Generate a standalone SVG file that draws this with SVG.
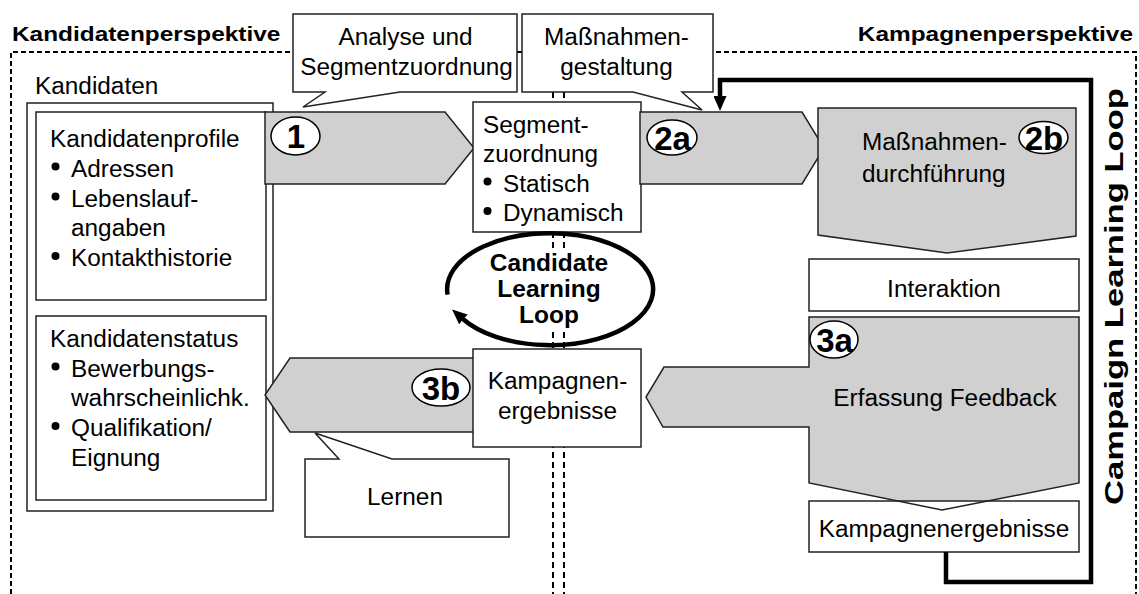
<svg xmlns="http://www.w3.org/2000/svg" width="1139" height="594" viewBox="0 0 1139 594">
  <style>
    .frame { fill: none; stroke: #000; stroke-width: 2; stroke-dasharray: 5 3; }
    .divider { fill: none; stroke: #000; stroke-width: 2; stroke-dasharray: 6 4; }
    .box { fill: #fff; stroke: #222; stroke-width: 1.5; }
    .shade { fill: #d0d0d0; stroke: #222; stroke-width: 1.5; }
    .shadefill { fill: #d0d0d0; stroke: none; }
    .outline { fill: none; stroke: #222; stroke-width: 1.5; }
    .loop { fill: none; stroke: #000; stroke-width: 4.5; stroke-linejoin: miter; }
    .badge { fill: #fff; stroke: #000; stroke-width: 1.5; }
    .dot { fill: #000; }
    text { font-family: "Liberation Sans", Arial, sans-serif; fill: #000; }
    .t { font-size: 23px; }
    .tb { font-size: 24px; font-weight: bold; }
    .title { font-size: 20px; font-weight: bold; }
    .bt { font-size: 33px; font-weight: bold; text-anchor: middle; }
    .m { text-anchor: middle; }
    .e { text-anchor: end; }
  </style>
  <defs>
    <marker id="head" markerUnits="userSpaceOnUse" viewBox="0 0 15 13" markerWidth="15" markerHeight="13" refX="1" refY="6.5" orient="auto">
      <path d="M0,0 L15,6.5 L0,13 Z" fill="#000"/>
    </marker>
  </defs>

  <!-- perspective frames -->
  <g id="frames">
    <path class="frame" d="M11,594 V52 H553"/>
    <path class="frame" d="M564,52 H1136 V594"/>
    <text class="title" transform="translate(12 41) scale(1.22 1)">Kandidatenperspektive</text>
    <text class="title e" transform="translate(1133 41) scale(1.22 1)">Kampagnenperspektive</text>
  </g>

  <!-- candidate data -->
  <g id="kandidaten">
    <text class="t" transform="translate(35 94) scale(1.06 1)">Kandidaten</text>
    <rect class="box" x="27" y="103" width="246" height="408"/>
    <g id="kandidatenprofile">
      <rect class="box" x="36" y="112" width="230" height="188"/>
      <text class="t" transform="translate(50 147) scale(1.06 1)">Kandidatenprofile</text>
      <circle class="dot" cx="55.5" cy="166.5" r="4"/>
      <text class="t" transform="translate(71 176.5) scale(1.06 1)">Adressen</text>
      <circle class="dot" cx="55.5" cy="196.5" r="4"/>
      <text class="t" transform="translate(71 206.5) scale(1.06 1)">Lebenslauf-</text>
      <text class="t" transform="translate(71 236) scale(1.06 1)">angaben</text>
      <circle class="dot" cx="55.5" cy="256" r="4"/>
      <text class="t" transform="translate(71 266) scale(1.06 1)">Kontakthistorie</text>
    </g>
    <g id="kandidatenstatus">
      <rect class="box" x="36" y="316" width="230" height="184"/>
      <text class="t" transform="translate(50 347) scale(1.06 1)">Kandidatenstatus</text>
      <circle class="dot" cx="55.5" cy="366.5" r="4"/>
      <text class="t" transform="translate(71 376.5) scale(1.06 1)">Bewerbungs-</text>
      <text class="t" transform="translate(71 406) scale(1.06 1)">wahrscheinlichk.</text>
      <circle class="dot" cx="55.5" cy="426" r="4"/>
      <text class="t" transform="translate(71 436) scale(1.06 1)">Qualifikation/</text>
      <text class="t" transform="translate(71 465.5) scale(1.06 1)">Eignung</text>
    </g>
  </g>

  <!-- center dividers between the two perspectives -->
  <g id="dividers">
    <line class="divider" x1="553" y1="52" x2="553" y2="594"/>
    <line class="divider" x1="564" y1="52" x2="564" y2="594"/>
  </g>

  <!-- step 1 -->
  <g id="step1">
    <polygon class="shade" points="265,112 445,112 474,148 445,184 265,184"/>
    <ellipse class="badge" cx="295.5" cy="136" rx="24.5" ry="19"/>
    <text class="bt" x="296" y="148">1</text>
  </g>

  <!-- segment assignment -->
  <g id="segmentzuordnung">
    <rect class="box" x="473" y="102" width="168" height="130"/>
    <text class="t" transform="translate(483 132.5) scale(1.06 1)">Segment-</text>
    <text class="t" transform="translate(483 162) scale(1.06 1)">zuordnung</text>
    <circle class="dot" cx="487.5" cy="181.5" r="4"/>
    <text class="t" transform="translate(503 191.5) scale(1.06 1)">Statisch</text>
    <circle class="dot" cx="487.5" cy="211" r="4"/>
    <text class="t" transform="translate(503 221) scale(1.06 1)">Dynamisch</text>
  </g>

  <!-- step 2a -->
  <g id="step2a">
    <polygon class="shade" points="640,112 802,112 824,148 802,184 640,184"/>
    <ellipse class="badge" cx="672" cy="137.5" rx="25" ry="17.5"/>
    <text class="bt" x="672.5" y="149.5">2a</text>
  </g>

  <!-- step 2b -->
  <g id="step2b">
    <polygon class="shade" points="818,108 1076,108 1076,236 947,253 818,235"/>
    <text class="t" transform="translate(862 150) scale(1.06 1)">Maßnahmen-</text>
    <text class="t" transform="translate(862 182) scale(1.06 1)">durchführung</text>
    <ellipse class="badge" cx="1043.5" cy="137.5" rx="24.5" ry="16"/>
    <text class="bt" x="1044" y="149.5">2b</text>
  </g>

  <!-- interaction -->
  <g id="interaktion">
    <rect class="box" x="809" y="259" width="270" height="52"/>
    <text class="t m" transform="translate(944 297) scale(1.06 1)">Interaktion</text>
  </g>

  <!-- step 3a with campaign results -->
  <g id="step3a">
    <polygon class="shadefill" points="809,317 1079,317 1079,483 942,510 809,483 809,427 663,427 646,397 664,367 809,367"/>
    <g id="kampagnenergebnisse-rechts">
      <rect class="box" x="809" y="501" width="270" height="51"/>
      <text class="t m" transform="translate(944 537) scale(1.06 1)">Kampagnenergebnisse</text>
    </g>
    <polygon class="outline" points="809,317 1079,317 1079,483 942,510 809,483 809,427 663,427 646,397 664,367 809,367"/>
    <text class="t m" transform="translate(945 406) scale(1.06 1)">Erfassung Feedback</text>
    <ellipse class="badge" cx="834" cy="339.5" rx="24" ry="18.5"/>
    <text class="bt" x="834.5" y="351.5">3a</text>
  </g>

  <!-- step 3b -->
  <g id="step3b">
    <polygon class="shade" points="477,358 290,358 265,395 290,432 477,432"/>
    <ellipse class="badge" cx="441" cy="387.5" rx="29" ry="18.5"/>
    <text class="bt" x="441" y="399.5">3b</text>
  </g>

  <!-- campaign results (center) -->
  <g id="kampagnenergebnisse-mitte">
    <rect class="box" x="473" y="349" width="168" height="98"/>
    <text class="t m" transform="translate(557.5 389) scale(1.06 1)">Kampagnen-</text>
    <text class="t m" transform="translate(557.5 419) scale(1.06 1)">ergebnisse</text>
  </g>

  <!-- callouts -->
  <g id="callout-analyse">
    <path class="box" d="M293,14 H517 V92 H400 L303,107 L325,92 H293 Z"/>
    <text class="t m" transform="translate(405.5 45) scale(1.06 1)">Analyse und</text>
    <text class="t m" transform="translate(406.5 75) scale(1.06 1)">Segmentzuordnung</text>
  </g>
  <g id="callout-gestaltung">
    <path class="box" d="M522,14 H713 V92 H682 L702,110 L633,92 H522 Z"/>
    <text class="t m" transform="translate(616.5 45) scale(1.06 1)">Maßnahmen-</text>
    <text class="t m" transform="translate(616.5 74.5) scale(1.06 1)">gestaltung</text>
  </g>
  <g id="callout-lernen">
    <path class="box" d="M305,459 H339 L315,433 L392,459 H509 V537 H305 Z"/>
    <text class="t m" transform="translate(405 505) scale(1.06 1)">Lernen</text>
  </g>

  <!-- learning loops -->
  <g id="connectors">
    <path class="loop" d="M946,552 V582 H1091 V80 H720 V97" marker-end="url(#head)"/>
    <path class="loop" d="M447.6,294.6 A103,56 0 1 1 462.6,318.7" marker-end="url(#head)"/>
  </g>

  <g id="candidate-learning-loop">
    <rect x="488" y="249" width="124" height="80" fill="#fff"/>
    <text class="tb m" transform="translate(549 271) scale(1.02 1)">Candidate</text>
    <text class="tb m" transform="translate(549 297) scale(1.02 1)">Learning</text>
    <text class="tb m" transform="translate(549 323) scale(1.02 1)">Loop</text>
  </g>

  <g id="campaign-learning-loop">
    <text class="m" style="font-size:25px;font-weight:bold" transform="translate(1123 296.5) rotate(-90)" textLength="417" lengthAdjust="spacingAndGlyphs">Campaign Learning Loop</text>
  </g>
</svg>
